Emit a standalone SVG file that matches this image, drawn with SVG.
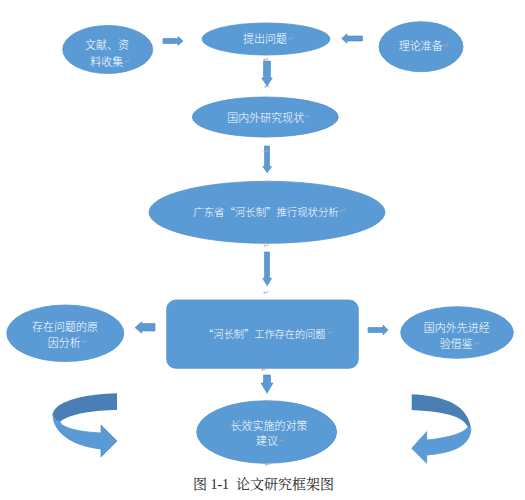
<svg xmlns="http://www.w3.org/2000/svg" width="525" height="500" viewBox="0 0 525 500">
<defs>
<style>
.shape{fill:#5b9bd5;stroke:#5593cc;stroke-width:0.8}
.arr{fill:#5b9bd5;stroke:#4f87bd;stroke-width:0.6}
.dark{fill:#4a7fb5}
.lbl{font-family:"Noto Sans CJK SC","Noto Sans",sans-serif;font-size:11px;font-weight:300;fill:#ffffff;text-anchor:middle;dominant-baseline:central}
.st{text-anchor:start}
.pm{font-family:"DejaVu Sans",sans-serif;font-size:7px;fill:#a8a8a8;dominant-baseline:central}
.cap{font-family:"Liberation Serif","Noto Serif CJK SC","Noto Sans CJK SC",serif;font-size:14px;fill:#222;text-anchor:middle;white-space:pre}
</style>
</defs>
<rect width="525" height="500" fill="#ffffff"/>

<g id="connectors">
  <path class="arr" d="M163,38.5 H178 V36.5 L183,41 L178,45.5 V43.5 H163 Z"/>
  <path class="arr" d="M362.5,36 H347 V33.8 L341.7,38.5 L347,43.2 V41 H362.5 Z"/>
  <path class="arr" d="M263.5,61 V78 H261.7 L267,86 L272.3,78 H270.5 V61 Z"/>
  <path class="arr" d="M264.5,146 V166.5 H262.7 L267.2,172.7 L271.7,166.5 H269.5 V146 Z"/>
  <path class="arr" d="M264.5,252 V278.3 H262.7 L267.2,285.7 L271.7,278.3 H269.5 V252 Z"/>
  <path class="arr" d="M155,323.5 H141.7 V321.7 L135,327.5 L141.7,333.3 V331 H155 Z"/>
  <path class="arr" d="M368,327.5 H383 V325 L388,330 L383,335 V332.5 H368 Z"/>
  <path class="arr" d="M263.5,375 V383 H261 L267,393.3 L273,383 H270.5 V375 Z"/>
  <path class="dark" d="M117,393.3 C88,394 57,400 53,413 C53,418 56,421 60,422 C68,414 95,410 117,410 Z"/>
  <path class="shape" d="M53,413 C52,432 72,446 101,449 L101,457 L117,441 L101,425 L101,433 C80,432 62,428 60,422 C56,421 53,418 53,413 Z"/>
  <path class="dark" d="M411.7,394.3 C440,396 466,402 470.7,426.7 L468,427 C463,418 452,412 411.7,410 Z"/>
  <path class="shape" d="M470.7,426.7 C472,446 452,453 426.7,455 L426.7,463.3 L411.7,448.3 L426.7,431.7 L426.7,440 C447,438 463,434 468,427 Z"/>
</g>

<g id="n-wenxian">
  <ellipse class="shape" cx="107.7" cy="49.5" rx="45" ry="24"/>
  <text class="lbl" x="107" y="44">文献、资</text>
  <text class="lbl" x="106.7" y="61">料收集</text>
  <text class="pm" x="124.5" y="62">↵</text>
</g>
<g id="n-tichu">
  <ellipse class="shape" cx="266" cy="39" rx="64" ry="16"/>
  <text class="lbl" x="265" y="38.3">提出问题</text>
  <text class="pm" x="288" y="39">↵</text>
</g>
<g id="n-lilun">
  <ellipse class="shape" cx="421" cy="46.7" rx="42" ry="25"/>
  <text class="lbl" x="420.8" y="45">理论准备</text>
  <text class="pm" x="443" y="45.5">↵</text>
</g>
<g id="n-guoneiwai">
  <ellipse class="shape" cx="265.3" cy="117" rx="73" ry="20"/>
  <text class="lbl" x="265.8" y="116.7">国内外研究现状</text>
  <text class="pm" x="304.5" y="117">↵</text>
</g>
<g id="n-guangdong">
  <ellipse class="shape" cx="267" cy="212.3" rx="118" ry="31"/>
  <text class="lbl st" x="193.3" y="211" style="font-size:10.4px">广东省“河长制”推行现状分析<tspan class="pm" dx="1">↵</tspan></text>
</g>
<g id="n-yuanyin">
  <ellipse class="shape" cx="65.3" cy="333.3" rx="58.5" ry="28.3"/>
  <text class="lbl" x="65" y="326">存在问题的原</text>
  <text class="lbl" x="64.2" y="341.7">因分析</text>
  <text class="pm" x="81.3" y="342">↵</text>
</g>
<g id="n-wenti">
  <rect class="shape" x="166.7" y="300" width="191.6" height="68.3" rx="9" ry="9"/>
  <text class="lbl st" x="203.3" y="333.3" style="font-size:10.2px">“河长制”工作存在的问题<tspan class="pm" dx="1">↵</tspan></text>
</g>
<g id="n-jingyan">
  <ellipse class="shape" cx="457" cy="332.5" rx="56.3" ry="25.8"/>
  <text class="lbl" x="456.7" y="326.7">国内外先进经</text>
  <text class="lbl" x="456.3" y="343.3">验借鉴</text>
  <text class="pm" x="474" y="344">↵</text>
</g>
<g id="n-duice">
  <ellipse class="shape" cx="266.7" cy="432" rx="70" ry="31.3"/>
  <text class="lbl" x="269" y="425">长效实施的对策</text>
  <text class="lbl" x="267" y="440">建议</text>
  <text class="pm" x="278.5" y="440.5">↵</text>
</g>

<g id="marks">
  <text class="pm" x="263" y="60">↵</text>
  <text class="pm" x="264" y="87.3">↵</text>
  <text class="pm" x="263" y="151.7">↵</text>
  <text class="pm" x="264" y="181.7">↵</text>
  <text class="pm" x="263.5" y="246">↵</text>
  <text class="pm" x="263" y="292.7">↵</text>
  <text class="pm" x="261" y="370">↵</text>
  <text class="pm" x="264.5" y="465">↵</text>
</g>

<text class="cap" x="263.5" y="489" xml:space="preserve">图 1-1  论文研究框架图</text>
</svg>
